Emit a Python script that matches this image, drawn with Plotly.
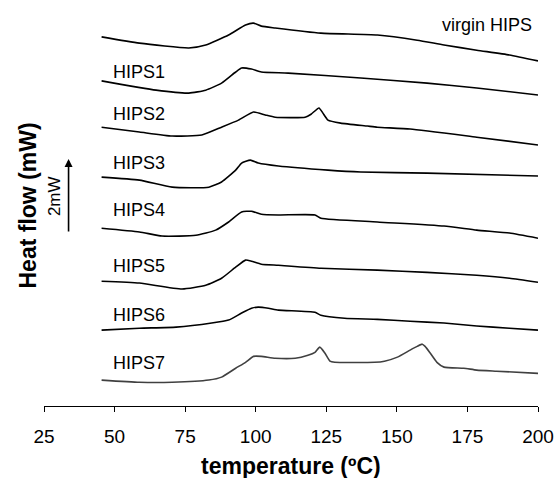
import plotly.graph_objects as go

# Temperature (ºC) and heat flow (mW, stacked offsets)
virgin_T = [45.4, 58.8, 76.3, 82.3, 90.4, 96.4, 99.2, 102.0, 106.9, 123.1, 143.1, 157.2, 166.7, 178.3, 189.9, 200]
virgin_H = [9.95, 9.78, 9.65, 9.73, 10.00, 10.27, 10.32, 10.24, 10.19, 10.05, 10.00, 9.86, 9.73, 9.59, 9.46, 9.30]

hips1_T = [45.4, 64.7, 76.3, 82.3, 87.9, 92.9, 95.0, 98.5, 102.0, 111.5, 137.2, 160.7, 178.3, 200]
hips1_H = [8.76, 8.51, 8.43, 8.51, 8.70, 9.00, 9.11, 9.08, 9.00, 8.97, 8.84, 8.70, 8.57, 8.38]

hips2_T = [45.4, 58.8, 70.4, 80.9, 87.9, 93.9, 99.2, 103.4, 106.9, 117.5, 119.6, 122.4, 123.8, 125.6, 130.1, 139.6, 143.1, 154.7, 178.3, 200]
hips2_H = [7.51, 7.38, 7.27, 7.30, 7.51, 7.70, 7.92, 7.84, 7.78, 7.78, 7.86, 8.03, 7.89, 7.70, 7.62, 7.54, 7.51, 7.46, 7.24, 7.03]

hips3_T = [45.4, 58.8, 70.4, 83.4, 87.9, 92.9, 95.0, 98.1, 100.9, 108.0, 125.6, 137.2, 160.7, 200]
hips3_H = [6.16, 6.08, 5.89, 5.89, 6.03, 6.35, 6.54, 6.62, 6.54, 6.46, 6.35, 6.30, 6.27, 6.19]

hips4_T = [45.4, 58.8, 66.8, 78.8, 85.8, 90.4, 95.0, 98.5, 102.0, 108.0, 121.0, 123.1, 143.1, 166.7, 178.3, 189.9, 200]
hips4_H = [4.78, 4.68, 4.57, 4.59, 4.73, 4.95, 5.22, 5.24, 5.16, 5.14, 5.14, 5.05, 4.95, 4.84, 4.73, 4.65, 4.51]

hips5_T = [45.4, 58.8, 73.9, 82.3, 87.9, 92.9, 96.4, 98.5, 102.0, 108.0, 123.1, 143.1, 160.7, 178.3, 189.9, 200]
hips5_H = [3.35, 3.30, 3.14, 3.24, 3.43, 3.73, 3.92, 3.89, 3.81, 3.78, 3.70, 3.65, 3.59, 3.51, 3.43, 3.32]

hips6_T = [45.4, 58.8, 71.8, 84.4, 90.4, 95.0, 98.5, 100.9, 104.5, 108.0, 121.0, 123.1, 131.5, 143.1, 154.7, 166.7, 178.3, 189.9, 200]
hips6_H = [2.03, 2.08, 2.11, 2.22, 2.30, 2.49, 2.62, 2.65, 2.62, 2.57, 2.51, 2.43, 2.35, 2.32, 2.27, 2.22, 2.14, 2.08, 2.03]

hips7_T = [45.4, 58.8, 70.4, 83.4, 87.9, 92.9, 96.4, 99.2, 102.0, 106.9, 114.0, 118.5, 121.0, 122.7, 124.5, 126.3, 128.0,
           142.1, 145.6, 150.2, 154.7, 157.2, 159.0, 160.0, 161.8, 164.2, 166.7, 173.7, 178.3, 185.3, 200]
hips7_H = [0.68, 0.62, 0.62, 0.68, 0.76, 1.00, 1.16, 1.32, 1.32, 1.27, 1.27, 1.35, 1.43, 1.57, 1.41, 1.19, 1.16,
           1.16, 1.19, 1.30, 1.49, 1.59, 1.65, 1.59, 1.41, 1.16, 1.03, 1.00, 0.95, 0.92, 0.86]

series_names = ["virgin HIPS", "HIPS1", "HIPS2", "HIPS3", "HIPS4", "HIPS5", "HIPS6", "HIPS7"]
series_T = [virgin_T, hips1_T, hips2_T, hips3_T, hips4_T, hips5_T, hips6_T, hips7_T]
series_H = [virgin_H, hips1_H, hips2_H, hips3_H, hips4_H, hips5_H, hips6_H, hips7_H]
series_colors = ["#000000"] * 7 + ["#404040"]

# label anchor (temperature, heat flow)
label_T = [198.7, 48.9, 48.9, 48.9, 48.9, 48.9, 48.9, 48.9]
label_H = [10.27, 9.01, 7.86, 6.53, 5.27, 3.76, 2.43, 1.13]

x_ticks = [25, 50, 75, 100, 125, 150, 175, 200]

FONT = "Liberation Sans, Arial, sans-serif"

fig = go.Figure()
for name, T, H, c in zip(series_names, series_T, series_H, series_colors):
    fig.add_trace(go.Scatter(x=T, y=H, mode="lines", name=name,
                             line=dict(color=c, width=1.6, shape="spline", smoothing=0.5),
                             showlegend=False))

for i, name in enumerate(series_names):
    fig.add_annotation(x=label_T[i], y=label_H[i], xref="x", yref="y", text=name,
                       showarrow=False, xanchor="right" if i == 0 else "left", yanchor="middle",
                       font=dict(size=18, color="#000000", family=FONT))

# 2 mW scale arrow
scale_T = 33.7
scale_top = 6.65
scale_len = 2.0
fig.add_annotation(x=scale_T, y=scale_top, ax=scale_T, ay=scale_top - scale_len,
                   xref="x", yref="y", axref="x", ayref="y", text="",
                   showarrow=True, arrowhead=2, arrowsize=1, arrowwidth=1.6, arrowcolor="#000000")
fig.add_annotation(x=scale_T, y=scale_top - scale_len / 2, xref="x", yref="y", text="2mW",
                   showarrow=False, textangle=-90, xanchor="right", yanchor="middle", xshift=-3,
                   font=dict(size=17, color="#000000", family=FONT))

# y-axis title
fig.add_annotation(x=0, y=0.5, xref="paper", yref="paper", text="<b>Heat flow (mW)</b>",
                   showarrow=False, textangle=-90, xanchor="center", yanchor="middle", xshift=-17,
                   font=dict(size=23, color="#000000", family=FONT))

# x-axis title
fig.add_annotation(x=0.5, y=0, xref="paper", yref="paper", text="<b>temperature (ºC)</b>",
                   showarrow=False, xanchor="center", yanchor="middle", yshift=-60,
                   font=dict(size=23, color="#000000", family=FONT))

fig.update_layout(
    width=559, height=478,
    margin=dict(l=44, r=18, t=5, b=72),
    paper_bgcolor="white", plot_bgcolor="white",
    xaxis=dict(range=[25, 200], tickvals=x_ticks, ticks="outside", ticklen=5, tickcolor="#000000",
               showline=True, linecolor="#000000", linewidth=1, showgrid=False, zeroline=False,
               ticklabelstandoff=8,
               tickfont=dict(size=19, color="#000000", family=FONT)),
    yaxis=dict(range=[-0.02, 10.81], visible=False),
)

fig.write_html("out.html")
